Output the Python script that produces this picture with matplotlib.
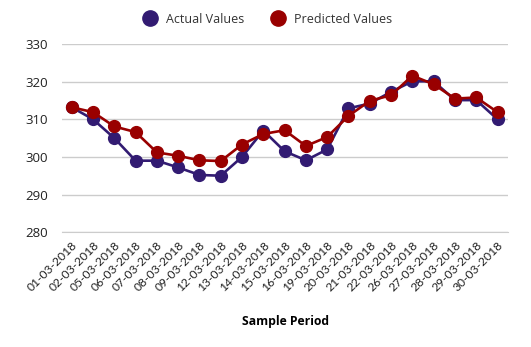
import matplotlib.pyplot as plt
import matplotlib.transforms as mtransforms

dates = ['01-03-2018', '02-03-2018', '05-03-2018', '06-03-2018', '07-03-2018',
         '08-03-2018', '09-03-2018', '12-03-2018', '13-03-2018', '14-03-2018',
         '15-03-2018', '16-03-2018', '19-03-2018', '20-03-2018', '21-03-2018',
         '22-03-2018', '26-03-2018', '27-03-2018', '28-03-2018', '29-03-2018',
         '30-03-2018']
actual = [313.2, 310.0, 305.0, 299.0, 299.0, 297.2, 295.2, 295.0, 300.0, 307.0,
          301.5, 299.1, 302.0, 312.9, 314.2, 317.3, 320.1, 320.1, 315.1, 315.1,
          310.0]
predicted = [313.2, 311.9, 308.1, 306.6, 301.2, 300.3, 299.1, 298.9, 303.3, 306.1,
             307.1, 302.9, 305.3, 310.9, 314.9, 316.4, 321.6, 319.3, 315.5, 315.8,
             311.9]
yticks = [280, 290, 300, 310, 320, 330]

plt.rcParams['font.family'] = ['Open Sans', 'DejaVu Sans']

fig = plt.figure(figsize=(5.31, 3.47), dpi=100)
ax = fig.add_axes([0.117, 0.331, 0.840, 0.542])

x = range(len(dates))
ax.plot(x, actual, color='#321b72', lw=1.9, marker='o', ms=8.5,
        label='Actual Values', zorder=3)
ax.plot(x, predicted, color='#990000', lw=1.9, marker='o', ms=8.5,
        label='Predicted Values', zorder=4)

ax.set_ylim(280, 330)
ax.set_xlim(-0.45, 20.5)
ax.set_yticks(yticks)
ax.set_xticks(list(x))
ax.set_xticklabels(dates, rotation=45, ha='right', rotation_mode='anchor',
                   fontsize=8.7, family='Lato', color='#222222')
# shift rotated labels a bit to the right, like the original
shift = mtransforms.ScaledTranslation(5/100, 0, fig.dpi_scale_trans)
for lab in ax.get_xticklabels():
    lab.set_transform(lab.get_transform() + shift)
ax.tick_params(axis='y', labelsize=9.5, length=0, pad=10, colors='#222222')
ax.tick_params(axis='x', length=0, pad=5)
ax.grid(axis='y', color='#cccccc', lw=1)
ax.set_axisbelow(True)
for s in ['top', 'right', 'left']:
    ax.spines[s].set_visible(False)
ax.spines['bottom'].set_color('#cccccc')

ax.set_xlabel('Sample Period', fontsize=8.7, fontweight='bold', labelpad=16)

fig.legend(loc='center', bbox_to_anchor=(0.505, 0.945), ncol=2, frameon=False,
           fontsize=9, handlelength=1.0, columnspacing=2.2)
leg = fig.legends[0]
for h in leg.legend_handles:
    h.set_linestyle('none')
    h.set_markersize(11)
for t in leg.get_texts():
    t.set_color('#333333')

fig.savefig('out.png', dpi=100)
